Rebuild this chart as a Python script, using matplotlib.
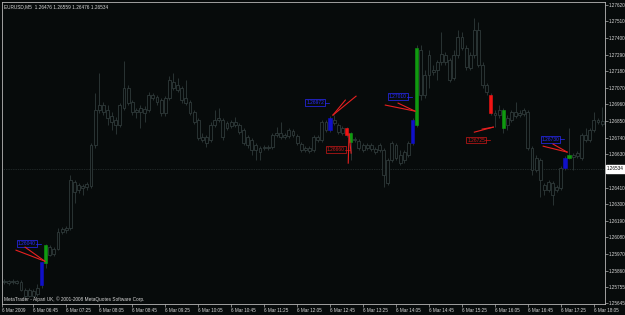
import matplotlib
matplotlib.use("Agg")
import matplotlib.pyplot as plt
from matplotlib.patches import Rectangle

plt.rcParams["font.family"] = ["Liberation Sans", "DejaVu Sans"]

BG = "#070b0b"
CANDLE = "#2f3a3a"
FG = "#d8d8d8"

header = "EURUSD,M5  1.26476 1.26559 1.26476 1.26534"
footer = "MetaTrader - Alpari UK, \u00a9 2001-2008 MetaQuotes Software Corp."
bid = 1.26534
start_minute = 6 * 60 + 10  # first bar 06:10, M5 bars

opens = [
    1.25784, 1.25791, 1.25784, 1.25791, 1.25784, 1.25731, 1.25691, 1.25725, 1.25705, 1.25764,
    1.25910, 1.26016, 1.25970, 1.26003, 1.26115, 1.26128, 1.26142, 1.26446, 1.26393, 1.26420,
    1.26413, 1.26420, 1.26691, 1.26923, 1.26956, 1.26923, 1.26883, 1.26857, 1.26823, 1.26936,
    1.27068, 1.26976, 1.26923, 1.26910, 1.26929, 1.26923, 1.27022, 1.27009, 1.26989, 1.26903,
    1.27002, 1.27108, 1.27088, 1.27068, 1.27002, 1.26976, 1.26910, 1.26857, 1.26744, 1.26744,
    1.26724, 1.26823, 1.26857, 1.26857, 1.26837, 1.26843, 1.26823, 1.26823, 1.26790, 1.26744,
    1.26724, 1.26691, 1.26671, 1.26678, 1.26671, 1.26678, 1.26757, 1.26770, 1.26757, 1.26751,
    1.26784, 1.26751, 1.26698, 1.26671, 1.26671, 1.26658, 1.26744, 1.26724, 1.26843, 1.26790,
    1.26857, 1.26823, 1.26804, 1.26804, 1.26711, 1.26731, 1.26718, 1.26691, 1.26671, 1.26691,
    1.26665, 1.26658, 1.26658, 1.26440, 1.26592, 1.26691, 1.26625, 1.26592, 1.26625, 1.26704,
    1.26823, 1.27320, 1.27022, 1.27154, 1.27188, 1.27188, 1.27241, 1.27287, 1.27254, 1.27135,
    1.27287, 1.27406, 1.27333, 1.27201, 1.27287, 1.27452, 1.27221, 1.27088, 1.27022, 1.26903,
    1.26890, 1.26804, 1.26870, 1.26857, 1.26910, 1.26903, 1.26896, 1.26910, 1.26671, 1.26526,
    1.26592, 1.26426, 1.26393, 1.26440, 1.26393, 1.26406, 1.26539, 1.26605, 1.26625, 1.26618,
    1.26605, 1.26757, 1.26724, 1.26790, 1.26857, 1.26850,
]
highs = [
    1.25804, 1.25797, 1.25804, 1.25797, 1.25797, 1.25744, 1.25744, 1.25738, 1.25771, 1.25917,
    1.26036, 1.26029, 1.26016, 1.26142, 1.26148, 1.26155, 1.26492, 1.26459, 1.26440, 1.26433,
    1.26446, 1.26704, 1.27035, 1.27168, 1.26976, 1.26956, 1.26910, 1.26876, 1.26969, 1.27247,
    1.27088, 1.26989, 1.26936, 1.26956, 1.26949, 1.27042, 1.27035, 1.27022, 1.27002, 1.27015,
    1.27148, 1.27168, 1.27135, 1.27082, 1.27121, 1.26989, 1.26923, 1.26870, 1.26770, 1.26757,
    1.26843, 1.26923, 1.26936, 1.26870, 1.26850, 1.26857, 1.26876, 1.26837, 1.26804, 1.26757,
    1.26737, 1.26704, 1.26684, 1.26691, 1.26691, 1.26770, 1.26810, 1.26843, 1.26770, 1.26804,
    1.26797, 1.26764, 1.26711, 1.26684, 1.26684, 1.26757, 1.26757, 1.26857, 1.26857, 1.26883,
    1.26890, 1.26837, 1.26817, 1.26810, 1.26777, 1.26744, 1.26731, 1.26704, 1.26704, 1.26704,
    1.26678, 1.26704, 1.26671, 1.26605, 1.26718, 1.26704, 1.26658, 1.26658, 1.26718, 1.26870,
    1.27353, 1.27353, 1.27188, 1.27320, 1.27221, 1.27254, 1.27439, 1.27307, 1.27267, 1.27320,
    1.27452, 1.27439, 1.27353, 1.27307, 1.27532, 1.27505, 1.27241, 1.27101, 1.27035, 1.26923,
    1.26956, 1.26936, 1.26890, 1.26923, 1.26976, 1.26923, 1.26936, 1.26923, 1.26684, 1.26625,
    1.26605, 1.26440, 1.26459, 1.26453, 1.26426, 1.26552, 1.26618, 1.26804, 1.26638, 1.26651,
    1.26770, 1.26804, 1.26804, 1.26910, 1.26870, 1.26943,
]
lows = [
    1.25771, 1.25764, 1.25771, 1.25771, 1.25725, 1.25672, 1.25685, 1.25685, 1.25691, 1.25744,
    1.25877, 1.25955, 1.25955, 1.25996, 1.26102, 1.26109, 1.26128, 1.26307, 1.26373, 1.26360,
    1.26393, 1.26406, 1.26671, 1.26903, 1.26890, 1.26823, 1.26790, 1.26764, 1.26810, 1.26923,
    1.26956, 1.26890, 1.26870, 1.26804, 1.26843, 1.26910, 1.26989, 1.26956, 1.26883, 1.26883,
    1.26989, 1.27055, 1.27042, 1.26969, 1.26956, 1.26890, 1.26830, 1.26724, 1.26711, 1.26678,
    1.26711, 1.26810, 1.26843, 1.26724, 1.26790, 1.26804, 1.26810, 1.26764, 1.26691, 1.26671,
    1.26625, 1.26592, 1.26592, 1.26658, 1.26658, 1.26665, 1.26744, 1.26731, 1.26731, 1.26737,
    1.26744, 1.26691, 1.26645, 1.26645, 1.26638, 1.26645, 1.26711, 1.26711, 1.26777, 1.26777,
    1.26823, 1.26764, 1.26757, 1.26744, 1.26592, 1.26711, 1.26658, 1.26645, 1.26658, 1.26651,
    1.26631, 1.26645, 1.26413, 1.26426, 1.26579, 1.26592, 1.26559, 1.26572, 1.26612, 1.26691,
    1.26810, 1.26989, 1.27002, 1.27068, 1.27154, 1.27121, 1.27221, 1.27221, 1.27108, 1.27121,
    1.27267, 1.27320, 1.27188, 1.27188, 1.27267, 1.27207, 1.27068, 1.27022, 1.26890, 1.26810,
    1.26870, 1.26770, 1.26790, 1.26843, 1.26870, 1.26876, 1.26883, 1.26658, 1.26492, 1.26512,
    1.26347, 1.26360, 1.26380, 1.26294, 1.26380, 1.26393, 1.26526, 1.26598, 1.26526, 1.26605,
    1.26592, 1.26711, 1.26711, 1.26777, 1.26830, 1.26817,
]
closes = [
    1.25791, 1.25778, 1.25791, 1.25778, 1.25731, 1.25691, 1.25731, 1.25691, 1.25744, 1.25917,
    1.26029, 1.25963, 1.26003, 1.26115, 1.26135, 1.26142, 1.26459, 1.26380, 1.26426, 1.26406,
    1.26433, 1.26691, 1.26923, 1.26956, 1.26910, 1.26870, 1.26843, 1.26823, 1.26956, 1.27068,
    1.26969, 1.26910, 1.26910, 1.26936, 1.26903, 1.27022, 1.27002, 1.26976, 1.26903, 1.27002,
    1.27121, 1.27068, 1.27055, 1.26989, 1.26969, 1.26903, 1.26843, 1.26737, 1.26724, 1.26704,
    1.26823, 1.26857, 1.26870, 1.26744, 1.26804, 1.26817, 1.26843, 1.26777, 1.26704, 1.26691,
    1.26658, 1.26658, 1.26645, 1.26671, 1.26678, 1.26757, 1.26770, 1.26744, 1.26744, 1.26790,
    1.26757, 1.26704, 1.26658, 1.26658, 1.26651, 1.26744, 1.26724, 1.26843, 1.26790, 1.26870,
    1.26837, 1.26777, 1.26770, 1.26757, 1.26770, 1.26724, 1.26671, 1.26658, 1.26691, 1.26665,
    1.26645, 1.26691, 1.26492, 1.26592, 1.26704, 1.26605, 1.26572, 1.26645, 1.26704, 1.26857,
    1.27333, 1.27022, 1.27154, 1.27287, 1.27174, 1.27241, 1.27294, 1.27241, 1.27121, 1.27287,
    1.27406, 1.27333, 1.27207, 1.27287, 1.27452, 1.27221, 1.27088, 1.27042, 1.26903, 1.26890,
    1.26923, 1.26923, 1.26823, 1.26910, 1.26883, 1.26890, 1.26923, 1.26671, 1.26526, 1.26605,
    1.26459, 1.26393, 1.26446, 1.26360, 1.26413, 1.26539, 1.26605, 1.26625, 1.26612, 1.26638,
    1.26757, 1.26724, 1.26790, 1.26857, 1.26843, 1.26830,
]

# bars painted by the signal indicator
signal_bars = [9, 10, 79, 83, 84, 99, 100, 118, 121, 136, 137]
signal_colors = ["#1010c8", "#109a10", "#1010c8", "#f01414", "#109a10", "#1010c8",
                 "#109a10", "#f01414", "#109a10", "#1010c8", "#109a10"]

# price labels: bar, text, colour
note_bars = [9, 79, 84, 99, 118, 136]
note_texts = ["1.26040", "1.26972", "1.26660", "1.27010", "1.26725", "1.26730"]
note_colors = ["#2a2aff", "#2a2aff", "#d01818", "#2a2aff", "#d01818", "#2a2aff"]

# red "V" marks: tip and two arm ends (bar, price)
v_tips = [(9.8, 1.25923), (79.7, 1.26890), (83.6, 1.26764),
          (99.6, 1.26916), (118.6, 1.26810), (136.5, 1.26645)]
v_arm1 = [(2.8, 1.25996), (82.7, 1.26989), (83.4, 1.26572),
          (92.4, 1.26956), (114.0, 1.26777), (130.7, 1.26684)]
v_arm2 = [(5.0, 1.26016), (85.3, 1.27015), (84.1, 1.26638),
          (95.5, 1.26969), (115.9, 1.26797), (133.1, 1.26698)]

price_ticks = [1.27620, 1.27510, 1.27400, 1.27290, 1.27180, 1.27070, 1.26960, 1.26850,
               1.26740, 1.26630, 1.26410, 1.26300, 1.26190, 1.26080, 1.25970, 1.25860,
               1.25755, 1.25645]
time_ticks = ["06:45", "07:25", "08:05", "08:45", "09:25", "10:05", "10:45", "11:25",
              "12:05", "12:45", "13:25", "14:05", "14:45", "15:25", "16:05", "16:45",
              "17:25", "18:05"]

fig = plt.figure(figsize=(6.25, 3.15), dpi=100, facecolor=BG)
ax = fig.add_axes([2 / 625, 11 / 315, 603 / 625, 302 / 315], facecolor=BG)

# candles
w = 0.7
for i, (o, h, l, c) in enumerate(zip(opens, highs, lows, closes)):
    if i in signal_bars:
        col = signal_colors[signal_bars.index(i)]
        ax.vlines(i, l, h, color=CANDLE, lw=0.6, zorder=2)
        ax.add_patch(Rectangle((i - 0.4, min(o, c)), 0.8, abs(c - o),
                               facecolor=col, edgecolor=col, lw=0.4, zorder=4))
        continue
    ax.vlines(i, l, max(o, c), color=CANDLE, lw=0.6, zorder=2)
    ax.vlines(i, min(o, c), h, color=CANDLE, lw=0.6, zorder=2)
    if abs(c - o) < 0.00003:
        ax.hlines(o, i - w / 2, i + w / 2, color=CANDLE, lw=0.6, zorder=3)
    else:
        ax.add_patch(Rectangle((i - w / 2, min(o, c)), w, abs(c - o),
                               facecolor=BG, edgecolor=CANDLE, lw=0.6, zorder=3))

# bid line
ax.axhline(bid, color="#3a4444", lw=0.5, ls=(0, (1, 1.5)), zorder=1)

# signal labels
for b, t, col in zip(note_bars, note_texts, note_colors):
    p = float(t)
    ax.text(b - 1.4, p, t, ha="right", va="center", fontsize=3.5, color=col,
            bbox=dict(boxstyle="square,pad=0.2", fc="none", ec=col, lw=0.5), zorder=5)
    ax.plot([b - 1.3, b - 0.2], [p, p], color=col, lw=0.5, zorder=5)

for tip, a1, a2 in zip(v_tips, v_arm1, v_arm2):
    for a in (a1, a2):
        ax.plot([a[0], tip[0]], [a[1], tip[1]], color="#e82020", lw=0.8, zorder=6)

ax.set_xlim(-0.6, len(opens) - 0.3)
ax.set_ylim(1.25640, 1.27638)

# axes: price on the right, time below
ax.yaxis.tick_right()
ax.set_yticks(price_ticks)
ax.set_yticklabels([f"{p:.5f}" for p in price_ticks])

tick_pos = [-0.6]
tick_lab = ["6 Mar 2009"]
for t in time_ticks:
    hh, mm = t.split(":")
    tick_pos.append((int(hh) * 60 + int(mm) - start_minute) / 5)
    tick_lab.append("6 Mar " + t)
ax.set_xticks(tick_pos)
ax.set_xticklabels(tick_lab)
for lab in ax.get_xticklabels():
    lab.set_ha("left")

ax.tick_params(axis="both", colors="#b0b0b0", labelcolor=FG, labelsize=3.3,
               length=2, width=0.5, pad=1)
for s in ax.spines.values():
    s.set_color("#b8b8b8")
    s.set_linewidth(0.6)

# current price box
ax.text(1.003, bid, f"{bid:.5f}", transform=ax.get_yaxis_transform(), ha="left",
        va="center", fontsize=3.3, color="black",
        bbox=dict(boxstyle="square,pad=0.25", fc="white", ec="white"), clip_on=False)

ax.text(0.004, 0.993, header, transform=ax.transAxes, ha="left", va="top",
        fontsize=3.4, color=FG)
ax.text(0.004, 0.006, footer, transform=ax.transAxes, ha="left", va="bottom",
        fontsize=3.4, color=FG)

fig.savefig("out.png", dpi=100, facecolor=BG)
